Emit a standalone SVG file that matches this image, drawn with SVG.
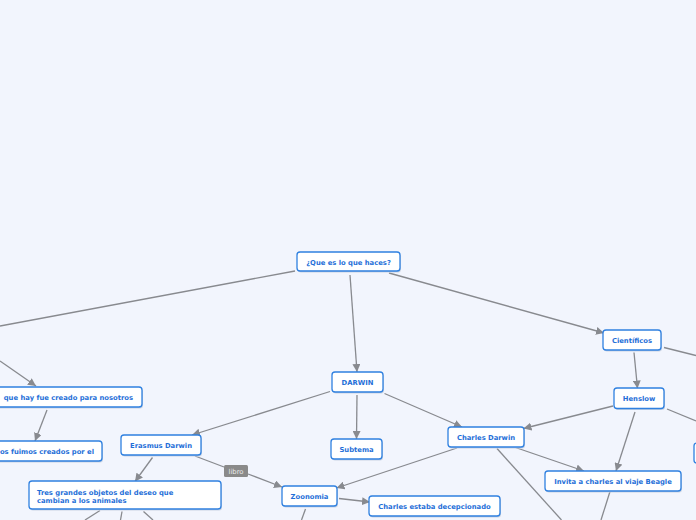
<svg xmlns="http://www.w3.org/2000/svg" width="696" height="520" viewBox="0 0 696 520">
<style>
.bg{fill:#f2f5fd}
.box{fill:#ffffff;stroke:#2f80e0;stroke-width:1.3}
.sh{fill:#c9d3e3}
.t{font-family:"DejaVu Sans",Verdana,sans-serif;font-weight:bold;font-size:6.8px;fill:#1f6fd8;text-anchor:middle}
.tl{text-anchor:start}
.te{text-anchor:end}
.c line,.c polyline{stroke:#888a8f;stroke-width:1.3;fill:none}
.lab{fill:#8a8a8a}
.labt{font-family:"DejaVu Sans",Verdana,sans-serif;font-size:6.8px;fill:#ececec;text-anchor:middle}
</style>
<defs>
<marker id="ah" markerUnits="userSpaceOnUse" markerWidth="9" markerHeight="8" refX="8" refY="4" orient="auto">
<path d="M0,0 L8,4 L0,8 z" fill="#888a8f"/>
</marker>
</defs>
<rect class="bg" x="0" y="0" width="696" height="520"/>
<g id="connectors" class="c">
<line x1="295" y1="271" x2="0" y2="326"/>
<line x1="350" y1="275" x2="357" y2="372" marker-end="url(#ah)"/>
<line x1="389" y1="273" x2="604" y2="333" marker-end="url(#ah)"/>
<line x1="0" y1="361" x2="36" y2="386" marker-end="url(#ah)"/>
<line x1="47" y1="410" x2="35" y2="441" marker-end="url(#ah)"/>
<line x1="330" y1="391.5" x2="192" y2="435" marker-end="url(#ah)"/>
<line x1="357" y1="395" x2="356.5" y2="439" marker-end="url(#ah)"/>
<line x1="384.5" y1="393.5" x2="462" y2="427" marker-end="url(#ah)"/>
<line x1="613" y1="406" x2="523.5" y2="428.5" marker-end="url(#ah)"/>
<line x1="457" y1="448" x2="336.5" y2="488" marker-end="url(#ah)"/>
<line x1="515.5" y1="447.5" x2="584" y2="471" marker-end="url(#ah)"/>
<line x1="497" y1="448.5" x2="561.5" y2="520"/>
<line x1="634" y1="352.5" x2="637.5" y2="388.5" marker-end="url(#ah)"/>
<line x1="664" y1="347.5" x2="696" y2="355.5"/>
<line x1="635" y1="412" x2="616" y2="471" marker-end="url(#ah)"/>
<line x1="667" y1="409" x2="696" y2="421"/>
<line x1="610" y1="491.5" x2="601" y2="520"/>
<line x1="152.5" y1="457.5" x2="135" y2="481.5" marker-end="url(#ah)"/>
<line x1="195" y1="456" x2="224" y2="467"/>
<line x1="248" y1="474" x2="282" y2="487" marker-end="url(#ah)"/>
<line x1="339" y1="498.5" x2="370" y2="502" marker-end="url(#ah)"/>
<line x1="305.5" y1="509" x2="301.5" y2="520"/>
<line x1="100" y1="510.5" x2="85" y2="520"/>
<line x1="122" y1="511.5" x2="120.5" y2="520"/>
<line x1="143.5" y1="511.5" x2="153" y2="520"/>
<g id="label-libro">
<rect class="lab" x="224" y="465" width="24" height="12" rx="1.5"/>
<text class="labt" x="236" y="473.5">libro</text>
</g>
</g>
<g id="n-que-haces">
<rect class="sh" x="298" y="253.5" width="103" height="19" rx="3"/>
<rect class="box" x="297" y="252" width="103" height="19" rx="3"/>
<text class="t" x="348.5" y="264.5">¿Que es lo que haces?</text>
</g>
<g id="n-darwin">
<rect class="sh" x="333" y="373.5" width="51" height="20" rx="3"/>
<rect class="box" x="332" y="372" width="51" height="20" rx="3"/>
<text class="t" x="357.5" y="384.5">DARWIN</text>
</g>
<g id="n-subtema">
<rect class="sh" x="332" y="440.5" width="51" height="20" rx="3"/>
<rect class="box" x="331" y="439" width="51" height="20" rx="3"/>
<text class="t" x="356.5" y="451.5">Subtema</text>
</g>
<g id="n-charles-darwin">
<rect class="sh" x="449" y="428.5" width="76" height="20" rx="3"/>
<rect class="box" x="448" y="427" width="76" height="20" rx="3"/>
<text class="t" x="486" y="439.5">Charles Darwin</text>
</g>
<g id="n-zoonomia">
<rect class="sh" x="283" y="487.5" width="55" height="20" rx="3"/>
<rect class="box" x="282" y="486" width="55" height="20" rx="3"/>
<text class="t" x="309.5" y="498.5">Zoonomia</text>
</g>
<g id="n-decepcionado">
<rect class="sh" x="370" y="497.5" width="131" height="20" rx="3"/>
<rect class="box" x="369" y="496" width="131" height="20" rx="3"/>
<text class="t" x="434.5" y="508.5">Charles estaba decepcionado</text>
</g>
<g id="n-erasmus">
<rect class="sh" x="122" y="436.5" width="80" height="20" rx="3"/>
<rect class="box" x="121" y="435" width="80" height="20" rx="3"/>
<text class="t" x="161" y="447.5">Erasmus Darwin</text>
</g>
<g id="n-tres-grandes">
<rect class="sh" x="30" y="482.5" width="192" height="28" rx="3"/>
<rect class="box" x="29" y="481" width="192" height="28" rx="3"/>
<text class="t tl" x="37" y="494.5">Tres grandes objetos del deseo que</text>
<text class="t tl" x="37" y="502.5">cambian a los animales</text>
</g>
<g id="n-que-hay">
<rect class="sh" x="-9" y="388.5" width="152" height="20" rx="3"/>
<rect class="box" x="-10" y="387" width="152" height="20" rx="3"/>
<text class="t te" x="133" y="399.5">que hay fue creado para nosotros</text>
</g>
<g id="n-fuimos">
<rect class="sh" x="-9" y="442.5" width="112" height="20" rx="3"/>
<rect class="box" x="-10" y="441" width="112" height="20" rx="3"/>
<text class="t te" x="94" y="453.5">os fuimos creados por el</text>
</g>
<g id="n-cientificos">
<rect class="sh" x="604" y="331.5" width="58" height="20" rx="3"/>
<rect class="box" x="603" y="330" width="58" height="20" rx="3"/>
<text class="t" x="632" y="342.5">Científicos</text>
</g>
<g id="n-henslow">
<rect class="sh" x="615" y="389.5" width="50" height="20.5" rx="3"/>
<rect class="box" x="614" y="388" width="50" height="20.5" rx="3"/>
<text class="t" x="639" y="400.8">Henslow</text>
</g>
<g id="n-invita">
<rect class="sh" x="546" y="472.5" width="136" height="20" rx="3"/>
<rect class="box" x="545" y="471" width="136" height="20" rx="3"/>
<text class="t" x="613" y="483.5">Invita a charles al viaje Beagle</text>
</g>
<g id="n-right">
<rect class="sh" x="695" y="444.5" width="20" height="20" rx="3"/>
<rect class="box" x="694" y="443" width="20" height="20" rx="3"/>
</g>
</svg>
